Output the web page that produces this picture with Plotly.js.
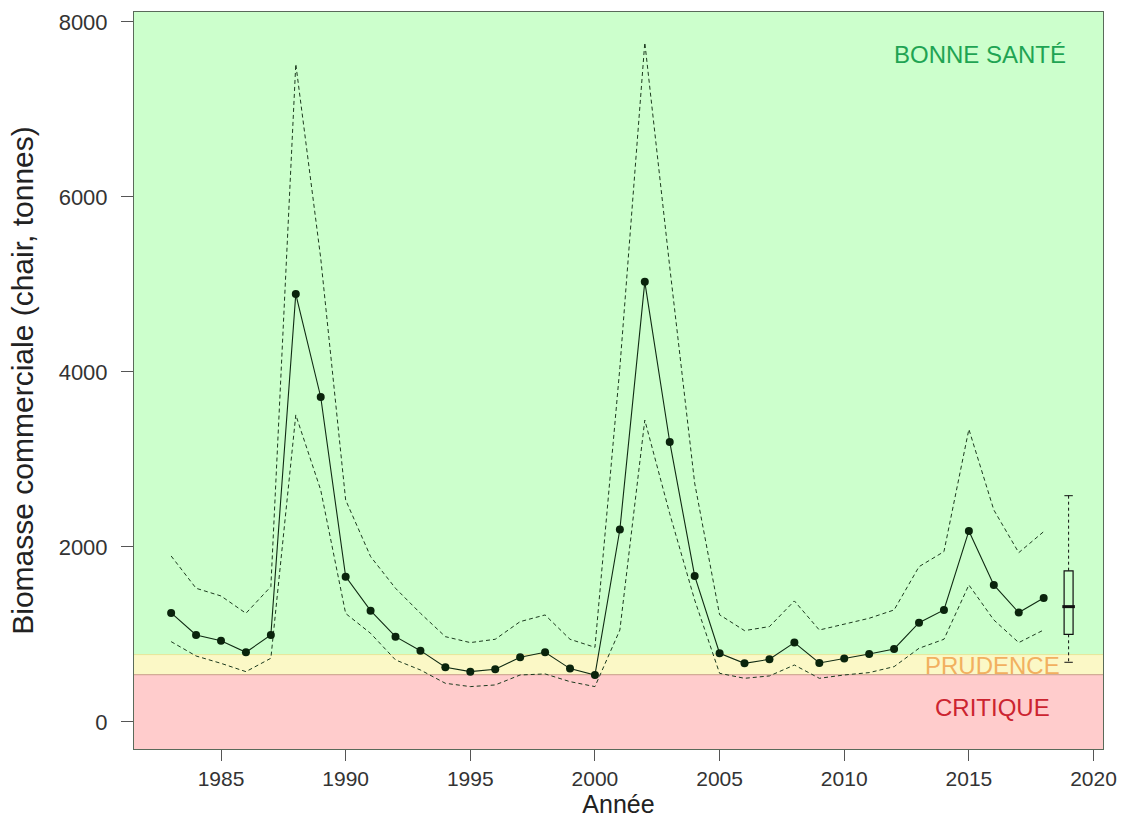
<!DOCTYPE html>
<html>
<head>
<meta charset="utf-8">
<script src="https://cdn.plot.ly/plotly-3.0.1.min.js"></script>
<style>html,body{margin:0;padding:0;background:#fff;}#chart{width:1125px;height:818px;}</style>
</head>
<body>
<div id="chart"></div>
<script>
// ---- Data ----
const years = [1983,1984,1985,1986,1987,1988,1989,1990,1991,1992,1993,1994,1995,1996,1997,1998,1999,2000,
               2001,2002,2003,2004,2005,2006,2007,2008,2009,2010,2011,2012,2013,2014,2015,2016,2017,2018];
const biomass = [1246,994,929,796,994,4891,3714,1661,1272,975,815,625,575,602,739,796,610,537,
                 2200,5030,3200,1669,785,670,716,907,674,724,777,834,1135,1280,2183,1566,1250,1417];
const upperCI = [1897,1528,1440,1242,1547,7520,5300,2537,1890,1528,1242,975,907,945,1147,1223,945,853,
                 4050,7765,5200,2730,1225,1044,1090,1383,1051,1116,1185,1280,1775,1947,3345,2423,1935,2175];
const lowerCI = [918,754,670,575,728,3509,2650,1240,1013,709,594,442,404,423,537,549,461,404,
                 1051,3450,2380,1394,556,499,526,651,499,537,564,632,842,945,1566,1166,907,1051];
// Projection year box plot (quantiles)
const boxYear = [2019];
const boxLow = [682];
const boxQ1 = [1002];
const boxMedian = [1318];
const boxQ3 = [1726];
const boxHigh = [2586];
// Reference points (status zones)
const limitCritical = 540;
const limitPrudence = 770;
const zoneLabels = ['BONNE SANTÉ', 'PRUDENCE', 'CRITIQUE'];
const xTicks = [1985,1990,1995,2000,2005,2010,2015,2020];
const yTicks = [0,2000,4000,6000,8000];

const FONT = 'Liberation Sans, Arial, Helvetica, sans-serif';
const lineCol = '#0f2a12';
const yMin = -309, yMax = 8114;

const traces = [
  {x: years, y: upperCI, type: 'scatter', mode: 'lines',
   line: {color: '#1c3a1e', width: 1, dash: '4px,3px'}, hoverinfo: 'skip'},
  {x: years, y: lowerCI, type: 'scatter', mode: 'lines',
   line: {color: '#1c3a1e', width: 1, dash: '4px,3px'}, hoverinfo: 'skip'},
  {x: years, y: biomass, type: 'scatter', mode: 'lines+markers',
   line: {color: lineCol, width: 1.1},
   marker: {color: '#0a240c', size: 8}},
  // whiskers (dashed) of projection box
  {x: [boxYear[0], boxYear[0], null, boxYear[0], boxYear[0]],
   y: [boxHigh[0], boxQ3[0], null, boxQ1[0], boxLow[0]],
   type: 'scatter', mode: 'lines', line: {color: '#111', width: 1, dash: '3px,3px'}},
  {x: [boxYear[0], boxYear[0]], y: [boxHigh[0], boxLow[0]], type: 'scatter', mode: 'markers',
   marker: {symbol: 'line-ew', size: 6, line: {color: '#111', width: 1}}},
  {type: 'box', x: boxYear, q1: boxQ1, median: boxMedian, q3: boxQ3,
   lowerfence: boxQ1, upperfence: boxQ3, width: 0.36,
   line: {color: '#111', width: 1.2}, fillcolor: 'rgba(0,0,0,0)', whiskerwidth: 0},
  // thick median (R style)
  {x: boxYear, y: boxMedian, type: 'scatter', mode: 'markers',
   marker: {symbol: 'line-ew', size: 9, line: {color: '#111', width: 3}}}
];

const layout = {
  width: 1125, height: 818,
  margin: {l: 134, r: 22, t: 12, b: 69},
  paper_bgcolor: '#ffffff', plot_bgcolor: '#ccffcc',
  showlegend: false,
  font: {family: FONT, color: '#333'},
  xaxis: {
    range: [1981.51, 2020.38], tickvals: xTicks, ticktext: xTicks.map(String),
    ticks: 'outside', ticklen: 11, tickcolor: '#555', tickwidth: 1,
    showgrid: false, zeroline: false, showline: true, mirror: true,
    linecolor: '#5a6a5a', linewidth: 1,
    tickfont: {family: FONT, size: 21, color: '#333'},
    ticklabelstandoff: 0,
    title: {text: 'Année', font: {family: FONT, size: 25, color: '#222'}, standoff: 9},
    automargin: false
  },
  yaxis: {
    range: [yMin, yMax], tickvals: yTicks, ticktext: yTicks.map(String),
    ticks: 'outside', ticklen: 12, tickcolor: '#555', tickwidth: 1,
    showgrid: false, zeroline: false, showline: true, mirror: true,
    linecolor: '#5a6a5a', linewidth: 1,
    tickfont: {family: FONT, size: 22, color: '#333'},
    ticklabelstandoff: 9,
    title: {text: 'Biomasse commerciale (chair, tonnes)', font: {family: FONT, size: 30, color: '#222'}, standoff: 16},
    automargin: false
  },
  shapes: [
    {type: 'rect', layer: 'below', xref: 'paper', x0: 0, x1: 1, yref: 'y', y0: yMin, y1: limitCritical,
     fillcolor: '#ffcccc', line: {width: 0}},
    {type: 'rect', layer: 'below', xref: 'paper', x0: 0, x1: 1, yref: 'y', y0: limitCritical, y1: limitPrudence,
     fillcolor: '#fbf8c6', line: {width: 0}},
    {type: 'line', layer: 'below', xref: 'paper', x0: 0, x1: 1, yref: 'y', y0: limitPrudence, y1: limitPrudence,
     line: {color: '#e6e79a', width: 1}},
    {type: 'line', layer: 'below', xref: 'paper', x0: 0, x1: 1, yref: 'y', y0: limitCritical, y1: limitCritical,
     line: {color: '#c99a8a', width: 1}}
  ],
  annotations: [
    {text: zoneLabels[0], x: 2015.45, y: 7623, xref: 'x', yref: 'y', showarrow: false,
     font: {family: FONT, size: 24, color: '#1fa453'}},
    {text: zoneLabels[1], x: 2015.93, y: 651, xref: 'x', yref: 'y', showarrow: false,
     font: {family: FONT, size: 24, color: '#f2b060'}},
    {text: zoneLabels[2], x: 2015.93, y: 160, xref: 'x', yref: 'y', showarrow: false,
     font: {family: FONT, size: 24, color: '#cc2430'}}
  ]
};

Plotly.newPlot('chart', traces, layout, {displayModeBar: false, staticPlot: true});
</script>
</body>
</html>
